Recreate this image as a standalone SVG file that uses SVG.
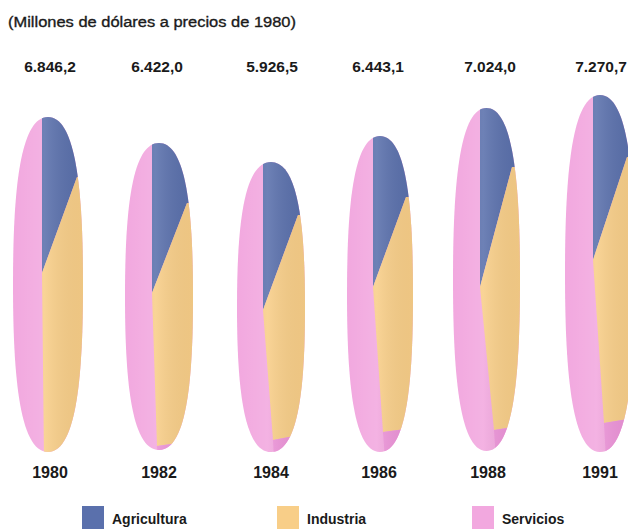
<svg xmlns="http://www.w3.org/2000/svg" width="628" height="529" viewBox="0 0 628 529">
<style>
.t{font-family:"Liberation Sans",Arial,sans-serif;fill:#1a1a1a}
.title{font-size:15.5px;stroke:#1a1a1a;stroke-width:0.35}
.val{font-size:15.5px;font-weight:bold;text-anchor:middle}
.yr{font-size:16px;font-weight:bold;text-anchor:middle}
.lg{font-size:14px;font-weight:bold}
.pk{fill:#F2A8DF}
.pk2{fill:#EC93D8}
.bl{fill:#5A70AC}
.ye{fill:#F8CE88}
</style>
<defs>
<clipPath id="c1980"><path d="M48,117 C77.75,117 83,200.75 83,284.5 C83,368.25 77.75,452 48,452 C18.25,452 13,368.25 13,284.5 C13,200.75 18.25,117 48,117Z"/></clipPath>
<clipPath id="c1982"><path d="M159,143 C187.9,143 193,219.75 193,296.5 C193,373.25 187.9,450 159,450 C130.1,450 125,373.25 125,296.5 C125,219.75 130.1,143 159,143Z"/></clipPath>
<clipPath id="c1984"><path d="M271,162 C299.9,162 305,234.5 305,307 C305,379.5 299.9,452 271,452 C242.1,452 237,379.5 237,307 C237,234.5 242.1,162 271,162Z"/></clipPath>
<clipPath id="c1986"><path d="M380,136 C408.05,136 413,215 413,294 C413,373 408.05,452 380,452 C351.95,452 347,373 347,294 C347,215 351.95,136 380,136Z"/></clipPath>
<clipPath id="c1988"><path d="M486.5,108 C514.975,108 520,193.75 520,279.5 C520,365.25 514.975,451 486.5,451 C458.025,451 453,365.25 453,279.5 C453,193.75 458.025,108 486.5,108Z"/></clipPath>
<clipPath id="c1991"><path d="M600,95 C629.75,95 635,184.25 635,273.5 C635,362.75 629.75,452 600,452 C570.25,452 565,362.75 565,273.5 C565,184.25 570.25,95 600,95Z"/></clipPath>
<linearGradient id="sh" x1="0" y1="0" x2="1" y2="0">
<stop offset="0" stop-color="#fff" stop-opacity="0"/>
<stop offset="0.45" stop-color="#fff" stop-opacity="0.12"/>
<stop offset="1" stop-color="#000" stop-opacity="0.04"/>
</linearGradient>
</defs>
<rect width="628" height="529" fill="#fff"/>
<text class="t title" x="8" y="27" textLength="288" lengthAdjust="spacingAndGlyphs">(Millones de dólares a precios de 1980)</text>
<g id="values">
<text class="t val" x="50" y="72">6.846,2</text>
<text class="t val" x="157" y="72">6.422,0</text>
<text class="t val" x="272" y="72">5.926,5</text>
<text class="t val" x="378" y="72">6.443,1</text>
<text class="t val" x="490" y="72">7.024,0</text>
<text class="t val" x="601" y="72">7.270,7</text>
</g>
<g id="pie-1980" clip-path="url(#c1980)">
<rect class="pk" x="10" y="110" width="80" height="350"/>
<polygon class="bl" points="42,273 42,110 90,110 90,177 77,177"/>
<polygon class="ye" points="42,273 77,177 90,177 90,460 44,460"/>
<rect x="13" y="110" width="70" height="350" fill="url(#sh)"/>
</g>
<g id="pie-1982" clip-path="url(#c1982)">
<rect class="pk" x="120" y="135" width="80" height="320"/>
<polygon class="bl" points="152,293 152,135 200,135 200,203 187,203"/>
<polygon class="ye" points="152,293 187,203 200,203 200,440 157,446"/>
<polygon class="pk2" points="157,446 200,440 200,460 158,460"/>
<rect x="125" y="135" width="68" height="320" fill="url(#sh)"/>
</g>
<g id="pie-1984" clip-path="url(#c1984)">
<rect class="pk" x="230" y="155" width="80" height="305"/>
<polygon class="bl" points="263,310 263,155 310,155 310,215 298,215"/>
<polygon class="ye" points="263,310 298,215 310,215 310,433 273,440"/>
<polygon class="pk2" points="273,440 310,433 310,460 274,460"/>
<rect x="237" y="155" width="68" height="305" fill="url(#sh)"/>
</g>
<g id="pie-1986" clip-path="url(#c1986)">
<rect class="pk" x="340" y="130" width="80" height="330"/>
<polygon class="bl" points="373,287 373,130 420,130 420,197 406,197"/>
<polygon class="ye" points="373,287 406,197 420,197 420,427 383,432"/>
<polygon class="pk2" points="383,432 420,427 420,460 385,460"/>
<rect x="347" y="130" width="66" height="330" fill="url(#sh)"/>
</g>
<g id="pie-1988" clip-path="url(#c1988)">
<rect class="pk" x="445" y="100" width="80" height="360"/>
<polygon class="bl" points="480,287 480,100 525,100 525,167 512,167"/>
<polygon class="ye" points="480,287 512,167 525,167 525,425 494,430"/>
<polygon class="pk2" points="494,430 525,425 525,460 496,460"/>
<rect x="453" y="100" width="67" height="360" fill="url(#sh)"/>
</g>
<g id="pie-1991" clip-path="url(#c1991)">
<rect class="pk" x="560" y="90" width="80" height="370"/>
<polygon class="bl" points="593,260 593,90 640,90 640,157 627,157"/>
<polygon class="ye" points="593,260 627,157 640,157 640,417 604,423"/>
<polygon class="pk2" points="604,423 640,417 640,460 606,460"/>
<rect x="565" y="90" width="70" height="370" fill="url(#sh)"/>
</g>
<g id="years">
<text class="t yr" x="50" y="478">1980</text>
<text class="t yr" x="159" y="478">1982</text>
<text class="t yr" x="271" y="478">1984</text>
<text class="t yr" x="379" y="478">1986</text>
<text class="t yr" x="488" y="478">1988</text>
<text class="t yr" x="600" y="478">1991</text>
</g>
<g id="legend-agricultura">
<rect class="bl" x="82" y="506" width="22" height="23"/>
<text class="t lg" x="112" y="524">Agricultura</text>
</g>
<g id="legend-industria">
<rect class="ye" x="277" y="506" width="22" height="23"/>
<text class="t lg" x="307" y="524">Industria</text>
</g>
<g id="legend-servicios">
<rect class="pk" x="472" y="506" width="22" height="23"/>
<text class="t lg" x="502" y="524">Servicios</text>
</g>
</svg>
